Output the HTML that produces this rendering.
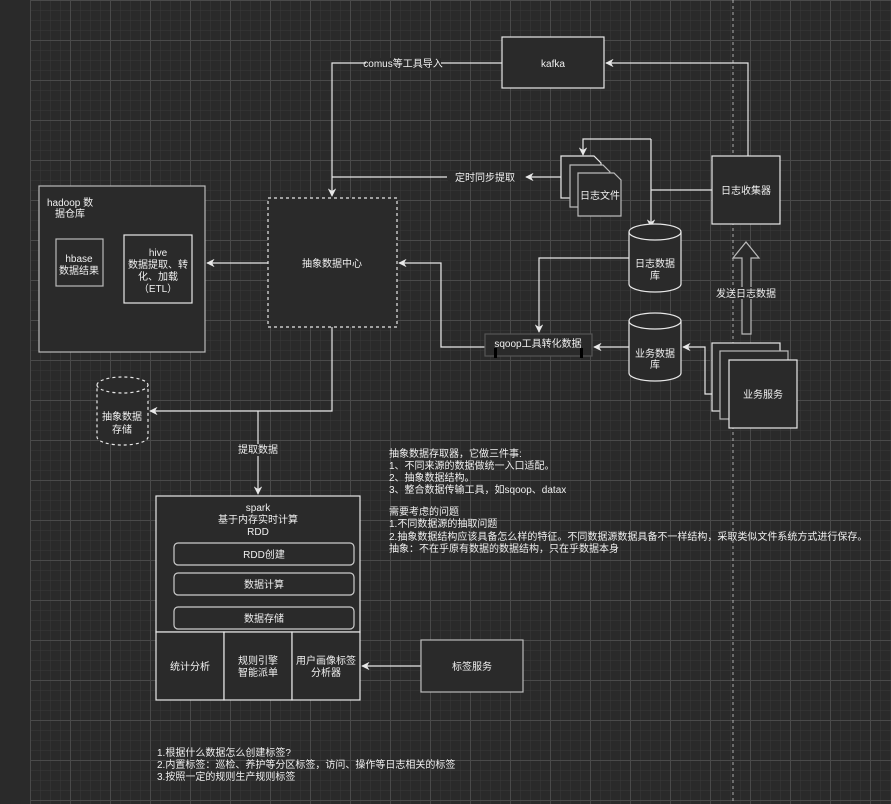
<!DOCTYPE html>
<html><head><meta charset="utf-8"><style>
html,body{margin:0;padding:0;background:#2a2a2a;}
svg{display:block;}
text{font-family:"Liberation Sans","Noto Sans CJK SC",sans-serif;font-size:10px;fill:#f0f0f0;}
</style></head><body>
<svg width="891" height="804" viewBox="0 0 891 804" xmlns="http://www.w3.org/2000/svg">
<defs>
<pattern id="minor" width="10" height="10" patternUnits="userSpaceOnUse" x="30" y="0">
<path d="M0 0H10M0 0V10" stroke="#3a3a3a" stroke-width="1" fill="none"/>
</pattern>
<pattern id="major" width="40" height="40" patternUnits="userSpaceOnUse" x="30" y="0">
<path d="M0 0.5H40M0.5 0V40" stroke="#4a4a4a" stroke-width="1" fill="none"/>
</pattern>
<marker id="a" viewBox="0 0 10 10" refX="9" refY="5" markerWidth="7" markerHeight="7" orient="auto"><path d="M0 0L10 5L0 10L3 5Z" fill="#e8e8e8"/></marker>
</defs>
<rect x="0" y="0" width="891" height="804" fill="#2a2a2a"/>
<rect x="30" y="0" width="861" height="804" fill="url(#minor)"/>
<rect x="30" y="0" width="861" height="804" fill="url(#major)"/>
<line x1="733" y1="0" x2="733" y2="804" stroke="#ccc" stroke-width="0.8" stroke-dasharray="3 3"/>

<g stroke="#e8e8e8" fill="none" stroke-width="1.2">
<polyline points="502,63 332,63 332,196" marker-end="url(#a)"/>
<polyline points="332,177 447,177"/>
<line x1="561" y1="177" x2="526" y2="177" marker-end="url(#a)"/>
<line x1="268" y1="263" x2="207" y2="263" marker-end="url(#a)"/>
<polyline points="485,347 441,347 441,263 399,263" marker-end="url(#a)"/>
<polyline points="332,327 332,411 150,411" marker-end="url(#a)"/>
<line x1="258" y1="411" x2="258" y2="494" marker-end="url(#a)"/>
<polyline points="748,156 748,63 606,63" marker-end="url(#a)"/>
<line x1="712" y1="190" x2="651" y2="190"/>
<polyline points="651,139 651,227" marker-end="url(#a)"/>
<polyline points="651,139 583,139 583,155" marker-end="url(#a)"/>
<polyline points="629,258 539,258 539,332" marker-end="url(#a)"/>
<line x1="629" y1="347" x2="594" y2="347" marker-end="url(#a)"/>
<polyline points="729,394 705,394 705,347 683,347" marker-end="url(#a)"/>
<line x1="421" y1="666" x2="362" y2="666" marker-end="url(#a)"/>
</g>

<g stroke="#e8e8e8" stroke-width="1.2" fill="#2a2a2a">
<rect x="502" y="37" width="102" height="51"/>
<rect x="268" y="198" width="129" height="129" stroke-dasharray="3 3"/>
<rect x="39" y="186" width="166" height="166" stroke="#bbb"/>
<rect x="56" y="239" width="47" height="47" stroke="#bbb"/>
<rect x="124" y="235" width="68" height="68"/>
<path d="M97 385 A25.5 8 0 0 1 148 385 V437 A25.5 8 0 0 1 97 437 Z" stroke-dasharray="3 3"/>
<path d="M97 385 A25.5 8 0 0 0 148 385" fill="none" stroke-dasharray="3 3"/>
<path d="M561 156 H594 L601 163 V198 H561 Z"/>
<path d="M570 165 H603 L610 172 V207 H570 Z" stroke="#bbb"/>
<path d="M578 173 H614 L621 180 V216 H578 Z" stroke="#bbb"/>
<rect x="712" y="156" width="68" height="68"/>
<path d="M629 232 A26 8 0 0 1 681 232 V284 A26 8 0 0 1 629 284 Z"/>
<path d="M629 232 A26 8 0 0 0 681 232" fill="none"/>
<path d="M629 321 A26 8 0 0 1 681 321 V373 A26 8 0 0 1 629 373 Z"/>
<path d="M629 321 A26 8 0 0 0 681 321" fill="none"/>
<rect x="485" y="334" width="107" height="22" stroke="#555" fill="#2a2a2a"/>
<rect x="712" y="343" width="68" height="68"/>
<rect x="720" y="351" width="68" height="68" stroke="#bbb"/>
<rect x="729" y="360" width="68" height="68"/>
<path d="M742 334 V258 H733 L746 242 L759 258 H751 V334 Z" stroke="#bbb"/>
<rect x="156" y="496" width="204" height="136"/>
<rect x="174" y="543" width="180" height="22" rx="4" stroke="#ccc"/>
<rect x="174" y="573" width="180" height="22" rx="4" stroke="#ccc"/>
<rect x="174" y="607" width="180" height="22" rx="4" stroke="#ccc"/>
<rect x="156" y="632" width="68" height="68"/>
<rect x="224" y="632" width="68" height="68"/>
<rect x="292" y="632" width="68" height="68"/>
<rect x="421" y="640" width="102" height="52" stroke="#bbb"/>
</g>
<rect x="494" y="348" width="3" height="10" fill="#000"/>
<rect x="580" y="348" width="3" height="10" fill="#000"/>

<g text-anchor="middle">
<rect x="366" y="58" width="75" height="11" fill="#2a2a2a"/>
<text x="403" y="67">comus等工具导入</text>
<text x="553" y="67">kafka</text>
<rect x="448" y="171" width="72" height="12" fill="#2a2a2a"/>
<text x="485" y="181">定时同步提取</text>
<text x="332" y="267">抽象数据中心</text>
<text x="79" y="262">hbase</text>
<text x="79" y="274">数据结果</text>
<text x="158" y="256">hive</text>
<text x="158" y="268">数据提取、转</text>
<text x="158" y="280">化、加载</text>
<text x="158" y="292">（ETL）</text>
<text x="122" y="420">抽象数据</text>
<text x="122" y="433">存储</text>
<rect x="237" y="444" width="42" height="12" fill="#2a2a2a"/>
<text x="258" y="453">提取数据</text>
<text x="600" y="199">日志文件</text>
<text x="746" y="194">日志收集器</text>
<text x="655" y="267">日志数据</text>
<text x="655" y="279">库</text>
<text x="655" y="357">业务数据</text>
<text x="655" y="368">库</text>
<text x="538" y="347">sqoop工具转化数据</text>
<text x="763" y="398">业务服务</text>
<rect x="718" y="287" width="58" height="12" fill="#2a2a2a"/>
<text x="746" y="297">发送日志数据</text>
<text x="258" y="511">spark</text>
<text x="258" y="523">基于内存实时计算</text>
<text x="258" y="535">RDD</text>
<text x="264" y="558">RDD创建</text>
<text x="264" y="588">数据计算</text>
<text x="264" y="622">数据存储</text>
<text x="190" y="670">统计分析</text>
<text x="258" y="664">规则引擎</text>
<text x="258" y="676">智能派单</text>
<text x="326" y="664">用户画像标签</text>
<text x="326" y="676">分析器</text>
<text x="472" y="670">标签服务</text>
</g>
<text x="47" y="206">hadoop 数</text>
<text x="55" y="217">据仓库</text>

<g>
<text x="389" y="457">抽象数据存取器，它做三件事:</text>
<text x="389" y="469">1、不同来源的数据做统一入口适配。</text>
<text x="389" y="481">2、抽象数据结构。</text>
<text x="389" y="493">3、整合数据传输工具，如sqoop、datax</text>
<text x="389" y="515">需要考虑的问题</text>
<text x="389" y="527">1.不同数据源的抽取问题</text>
<text x="389" y="540">2.抽象数据结构应该具备怎么样的特征。不同数据源数据具备不一样结构，采取类似文件系统方式进行保存。</text>
<text x="389" y="552">抽象：不在乎原有数据的数据结构，只在乎数据本身</text>
<text x="157" y="756">1.根据什么数据怎么创建标签?</text>
<text x="157" y="768">2.内置标签：巡检、养护等分区标签，访问、操作等日志相关的标签</text>
<text x="157" y="780">3.按照一定的规则生产规则标签</text>
</g>
</svg>
</body></html>
